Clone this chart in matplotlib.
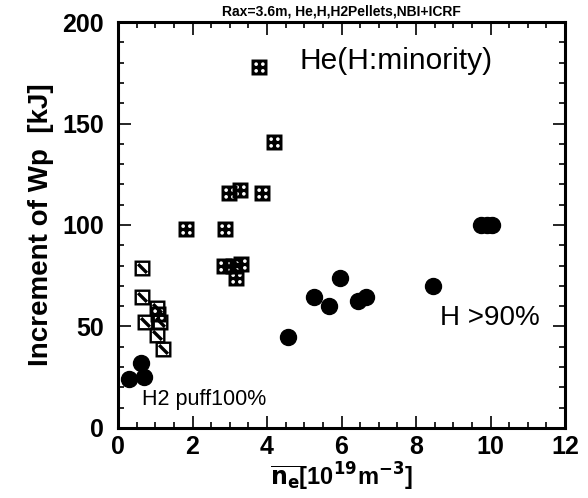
import numpy as np
import matplotlib.pyplot as plt
from matplotlib.path import Path
from matplotlib.ticker import MultipleLocator

plt.rcParams['font.family'] = ['Liberation Sans', 'DejaVu Sans']

# He pellets (H minority)
he_x = [3.79, 4.19, 2.98, 3.28, 3.87, 1.83, 2.87, 2.85, 3.09, 3.30, 3.17, 1.08]
he_y = [178, 141, 116, 117, 116, 98, 98, 80, 80, 81, 74, 56]

# H2 puff squares
h2_x = [0.64, 0.64, 1.05, 0.72, 1.13, 1.05, 1.21]
h2_y = [79, 64.5, 59, 52, 52, 46, 39]

# H > 90 %
h_x = [0.30, 0.62, 0.70, 4.56, 5.26, 5.66, 5.96, 6.44, 6.66, 8.46, 9.75, 9.9, 10.05]
h_y = [24, 32, 25, 45, 64.5, 60, 74, 62.5, 64.5, 70, 100, 100, 100]


def square(h, ccw=True):
    v = [(-h, -h), (h, -h), (h, h), (-h, h)]
    if not ccw:
        v = v[::-1]
    return v


def ring(cx, cy, r, n=16):
    t = np.linspace(0, -2 * np.pi, n, endpoint=False)  # clockwise -> hole
    return list(zip(cx + r * np.cos(t), cy + r * np.sin(t)))


def make_path(polys):
    verts, codes = [], []
    for p in polys:
        verts += p + [p[0]]
        codes += [Path.MOVETO] + [Path.LINETO] * (len(p) - 1) + [Path.CLOSEPOLY]
    return Path(verts, codes)


# black square with four white holes
he_marker = make_path([square(1.0)] + [ring(sx * 0.42, sy * 0.42, 0.23)
                                      for sx in (-1, 1) for sy in (-1, 1)])

# square frame with diagonal bar
h2_marker = make_path([square(1.0), square(0.7, ccw=False),
                       [(-0.7, 0.4), (0.4, -0.7), (0.7, -0.4), (-0.4, 0.7)]])

fig = plt.figure(figsize=(5.88, 4.98), dpi=100)
ax = fig.add_axes([0.2007, 0.1406, 0.7603, 0.8152])

ax.plot(h_x, h_y, 'o', color='black', markersize=11.5, zorder=3)
ax.plot(h2_x, h2_y, 's', color='white', markersize=11, markeredgewidth=0, zorder=4)
ax.plot(h2_x, h2_y, linestyle='none', marker=h2_marker, color='black',
        markersize=11.5, markeredgewidth=0, zorder=5)
ax.plot(he_x, he_y, linestyle='none', marker=he_marker, color='black',
        markersize=11.5, markeredgewidth=0, zorder=6)

ax.set_xlim(0, 12)
ax.set_ylim(0, 200)
ax.xaxis.set_major_locator(MultipleLocator(2))
ax.xaxis.set_minor_locator(MultipleLocator(0.5))
ax.yaxis.set_major_locator(MultipleLocator(50))
ax.yaxis.set_minor_locator(MultipleLocator(10))
ax.tick_params(which='both', direction='in', top=True, right=True, width=1.2)
ax.tick_params(which='major', length=9, labelsize=18)
ax.tick_params(axis='x', which='major', pad=5)
ax.tick_params(axis='y', which='major', pad=10)
ax.tick_params(which='minor', length=4)
for lab in ax.get_xticklabels() + ax.get_yticklabels():
    lab.set_fontweight('bold')
for s in ax.spines.values():
    s.set_linewidth(2.2)

ax.set_ylabel('Increment of Wp  [kJ]', fontsize=20, fontweight='bold', labelpad=6)
ax.set_xlabel(r'$\overline{\mathbf{n_e}}$[10$^{\mathbf{19}}$m$^{\mathbf{-3}}$]',
              fontsize=17, fontweight='bold', labelpad=1)
ax.set_title('Rax=3.6m, He,H,H2Pellets,NBI+ICRF', fontsize=10, fontweight='bold', pad=5)

ax.text(4.87, 181, 'He(H:minority)', fontsize=21.5, ha='left', va='center')
ax.text(8.63, 54, 'H >90%', fontsize=20, ha='left', va='center')
ax.text(0.65, 14, 'H2 puff100%', fontsize=15.5, ha='left', va='center')

fig.savefig('out.png', dpi=100)
